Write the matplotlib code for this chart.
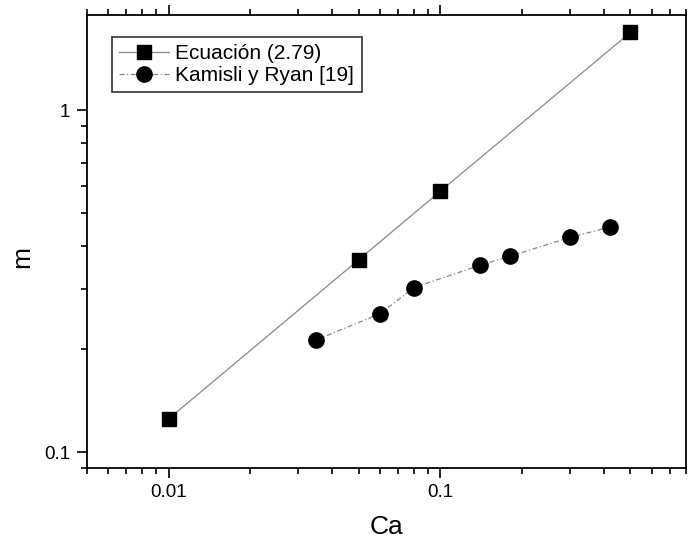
import matplotlib
matplotlib.use("Agg")
import matplotlib.pyplot as plt
from matplotlib.ticker import LogLocator, NullFormatter

plt.rcParams['font.family'] = ['Liberation Sans', 'DejaVu Sans']

# Ecuación (2.79)
ca_eq = [0.01, 0.05, 0.1, 0.5]
m_eq = [0.125, 0.365, 0.58, 1.69]

# Kamisli y Ryan [19]
ca_kr = [0.035, 0.06, 0.08, 0.14, 0.18, 0.30, 0.42]
m_kr = [0.213, 0.254, 0.303, 0.352, 0.374, 0.425, 0.455]

xticks = [0.01, 0.1]
xticklabels = ['0.01', '0.1']
yticks = [0.1, 1]
yticklabels = ['0.1', '1']

fig = plt.figure(figsize=(6.88, 5.47), dpi=100)
ax = fig.add_axes([0.126, 0.145, 0.871, 0.8275])

ax.plot(ca_eq, m_eq, color='#888888', lw=0.9, marker='s', ms=10,
        mfc='black', mec='black', label='Ecuación (2.79)')
ax.plot(ca_kr, m_kr, color='#888888', lw=0.9, ls=(0, (4, 2, 1, 2)), marker='o', ms=11,
        mfc='black', mec='black', label='Kamisli y Ryan [19]')

ax.set_xscale('log')
ax.set_yscale('log')
ax.set_xlim(0.005, 0.8)
ax.set_ylim(0.09, 1.9)

ax.set_xticks(xticks)
ax.set_xticklabels(xticklabels)
ax.set_yticks(yticks)
ax.set_yticklabels(yticklabels)
ax.xaxis.set_minor_locator(LogLocator(base=10, subs=range(2, 10), numticks=20))
ax.yaxis.set_minor_locator(LogLocator(base=10, subs=range(2, 10), numticks=20))
ax.xaxis.set_minor_formatter(NullFormatter())
ax.yaxis.set_minor_formatter(NullFormatter())

ax.tick_params(which='both', direction='out', top=True, right=False, labelsize=13.5, width=1.2)
ax.tick_params(which='major', length=7, pad=5)
ax.tick_params(which='minor', length=4)
for s in ax.spines.values():
    s.set_linewidth(1.3)

ax.set_xlabel('Ca', fontsize=19, labelpad=10)
ax.set_ylabel('m', fontsize=19, labelpad=7)
ax.yaxis.label.set_y(0.465)

leg = ax.legend(loc='upper left', bbox_to_anchor=(0.042, 0.952), fontsize=15, frameon=True,
                fancybox=False, edgecolor='black', handlelength=2.4, borderpad=0.35,
                labelspacing=0.15, handletextpad=0.3, borderaxespad=0)
leg.get_frame().set_linewidth(1.2)

fig.savefig('out.png', dpi=100)
